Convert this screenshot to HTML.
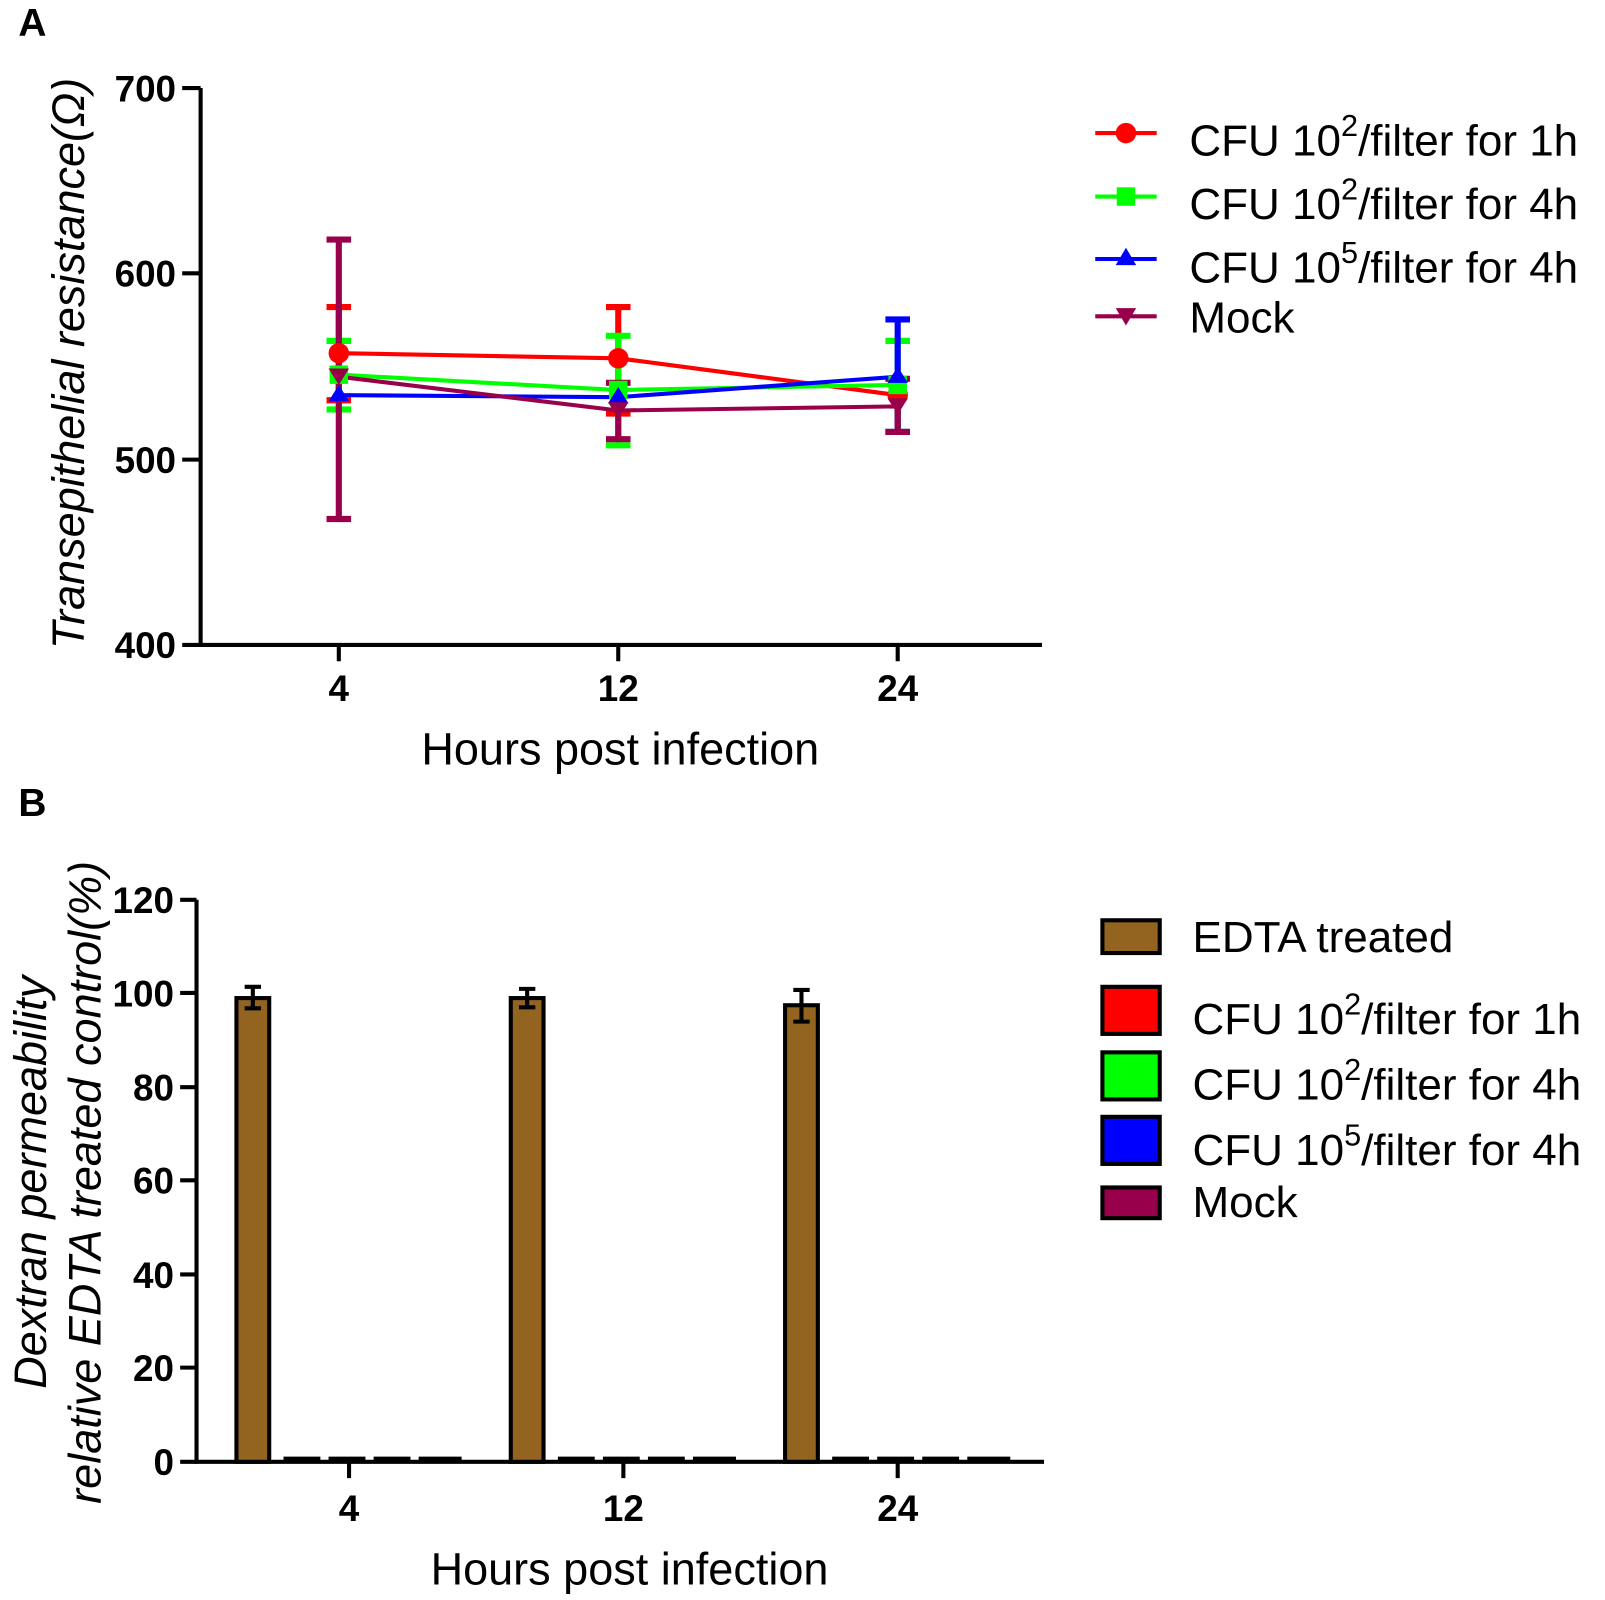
<!DOCTYPE html>
<html><head><meta charset="utf-8"><style>body{margin:0;background:#fff}svg{display:block}</style></head>
<body>
<svg width="1605" height="1600" viewBox="0 0 1568 1563" preserveAspectRatio="none" xmlns="http://www.w3.org/2000/svg" font-family="Liberation Sans, Arial, sans-serif">
<text x="18" y="35" font-size="38" font-weight="bold">A</text>
<text x="18" y="797" font-size="38" font-weight="bold">B</text>
<!-- Panel A axes -->
<g stroke="#000" stroke-width="4" fill="none">
<path d="M196 86 V630 H1018"/>
<path d="M178 86H196 M178 267H196 M178 449H196 M178 630H196"/>
<path d="M331 630V646 M604 630V646 M877 630V646"/>
</g>
<g font-size="36" font-weight="bold" text-anchor="end">
<text x="172" y="99">700</text><text x="172" y="280">600</text><text x="172" y="462">500</text><text x="172" y="643">400</text>
</g>
<g font-size="36" font-weight="bold" text-anchor="middle">
<text x="331" y="685">4</text><text x="604" y="685">12</text><text x="877" y="685">24</text>
</g>
<text x="606" y="747" font-size="44" text-anchor="middle">Hours post infection</text>
<text transform="translate(82,355) rotate(-90)" font-size="44" font-style="italic" text-anchor="middle">Transepithelial resistance(Ω)</text>
<!-- error bars -->
<g stroke-width="6" fill="none">
<path stroke="#f00" d="M331 300V391 M319 300H343 M319 391H343 M604 300V404 M592 300H616 M592 404H616"/>
<path stroke="#0f0" d="M331 333V400 M319 333H343 M319 400H343 M604 328V435 M592 328H616 M592 435H616 M877 333V422 M865 333H889 M865 422H889"/>
<path stroke="#00f" d="M877 312V422 M865 312H889 M865 422H889"/>
<path stroke="#99004c" d="M331 234V507 M319 234H343 M319 507H343 M604 374V429 M592 374H616 M592 429H616 M877 370V422 M865 370H889 M865 422H889"/>
</g>
<g stroke-width="4" fill="none">
<polyline stroke="#f00" points="331,345 604,350 877,386"/>
<polyline stroke="#0f0" points="331,366 604,381 877,376"/>
<polyline stroke="#00f" points="331,386 604,388 877,368"/>
<polyline stroke="#99004c" points="331,368 604,401 877,397"/>
</g>
<g>
<circle cx="331" cy="345" r="10" fill="#f00"/><circle cx="604" cy="350" r="10" fill="#f00"/><circle cx="877" cy="386" r="10" fill="#f00"/>
<rect x="322" y="357" width="18" height="18" fill="#0f0"/><rect x="595" y="372" width="18" height="18" fill="#0f0"/><rect x="868" y="367" width="18" height="18" fill="#0f0"/>
<path fill="#00f" d="M331 376l10 16h-20z M604 378l10 16h-20z M877 358l10 16h-20z"/>
<path fill="#99004c" d="M321 360h20l-10 16z M594 393h20l-10 16z M867 389h20l-10 16z"/>
</g>
<!-- legend A -->
<g stroke-width="4">
<path stroke="#f00" d="M1070 130H1130"/><circle cx="1100" cy="130" r="10" fill="#f00"/>
<path stroke="#0f0" d="M1070 192H1130"/><rect x="1091" y="183" width="18" height="18" fill="#0f0" stroke="none"/>
<path stroke="#00f" d="M1070 253H1130"/><path fill="#00f" stroke="none" d="M1100 242l10 17h-20z"/>
<path stroke="#99004c" d="M1070 309H1130"/><path fill="#99004c" stroke="none" d="M1090 301h20l-10 17z"/>
</g>
<g font-size="43">
<text x="1162" y="152">CFU 10<tspan font-size="30" dy="-19">2</tspan><tspan dy="19">/filter for 1h</tspan></text>
<text x="1162" y="214">CFU 10<tspan font-size="30" dy="-19">2</tspan><tspan dy="19">/filter for 4h</tspan></text>
<text x="1162" y="276">CFU 10<tspan font-size="30" dy="-19">5</tspan><tspan dy="19">/filter for 4h</tspan></text>
<text x="1162" y="325">Mock</text>
</g>
<!-- Panel B axes -->
<g stroke="#000" stroke-width="4" fill="none">
<path d="M192 879 V1428 H1020"/>
<path d="M176 879H192 M176 970H192 M176 1062H192 M176 1153H192 M176 1245H192 M176 1336H192 M176 1428H192"/>
<path d="M341 1428V1444 M609 1428V1444 M877 1428V1444"/>
</g>
<g font-size="36" font-weight="bold" text-anchor="end">
<text x="170" y="892">120</text><text x="170" y="983">100</text><text x="170" y="1075">80</text><text x="170" y="1166">60</text><text x="170" y="1258">40</text><text x="170" y="1349">20</text><text x="170" y="1441">0</text>
</g>
<g font-size="36" font-weight="bold" text-anchor="middle">
<text x="341" y="1486">4</text><text x="609" y="1486">12</text><text x="877" y="1486">24</text>
</g>
<text x="615" y="1548" font-size="44" text-anchor="middle">Hours post infection</text>
<g font-size="44" font-style="italic" text-anchor="middle">
<text transform="translate(45,1155) rotate(-90)">Dextran permeability</text>
<text transform="translate(98,1155) rotate(-90)">relative EDTA treated control(%)</text>
</g>
<g fill="#936420" stroke="#000" stroke-width="4">
<rect x="231" y="975" width="32" height="453"/>
<rect x="499" y="975" width="32" height="453"/>
<rect x="767" y="982" width="32" height="446"/>
</g>
<g stroke="#000" stroke-width="4" fill="none">
<path d="M247 964V985 M239 964H255 M239 985H255 M515 966V984 M507 966H523 M507 984H523 M783 967V998 M775 967H791 M775 998H791"/>
</g>
<g stroke="#000" stroke-width="6">
<path d="M277 1426H313 M321 1426H357 M365 1426H401 M409 1426H451"/>
<path d="M545 1426H581 M589 1426H625 M633 1426H669 M677 1426H719"/>
<path d="M813 1426H849 M857 1426H893 M901 1426H937 M945 1426H987"/>
</g>
<!-- legend B -->
<g stroke="#000" stroke-width="4">
<rect x="1077" y="899" width="56" height="32" fill="#936420"/>
<rect x="1077" y="964" width="56" height="46" fill="#f00"/>
<rect x="1077" y="1028" width="56" height="46" fill="#0f0"/>
<rect x="1077" y="1091" width="56" height="46" fill="#00f"/>
<rect x="1077" y="1160" width="56" height="30" fill="#99004c"/>
</g>
<g font-size="43">
<text x="1165" y="930">EDTA treated</text>
<text x="1165" y="1010">CFU 10<tspan font-size="30" dy="-19">2</tspan><tspan dy="19">/filter for 1h</tspan></text>
<text x="1165" y="1074">CFU 10<tspan font-size="30" dy="-19">2</tspan><tspan dy="19">/filter for 4h</tspan></text>
<text x="1165" y="1138">CFU 10<tspan font-size="30" dy="-19">5</tspan><tspan dy="19">/filter for 4h</tspan></text>
<text x="1165" y="1189">Mock</text>
</g>
</svg>
</body></html>
